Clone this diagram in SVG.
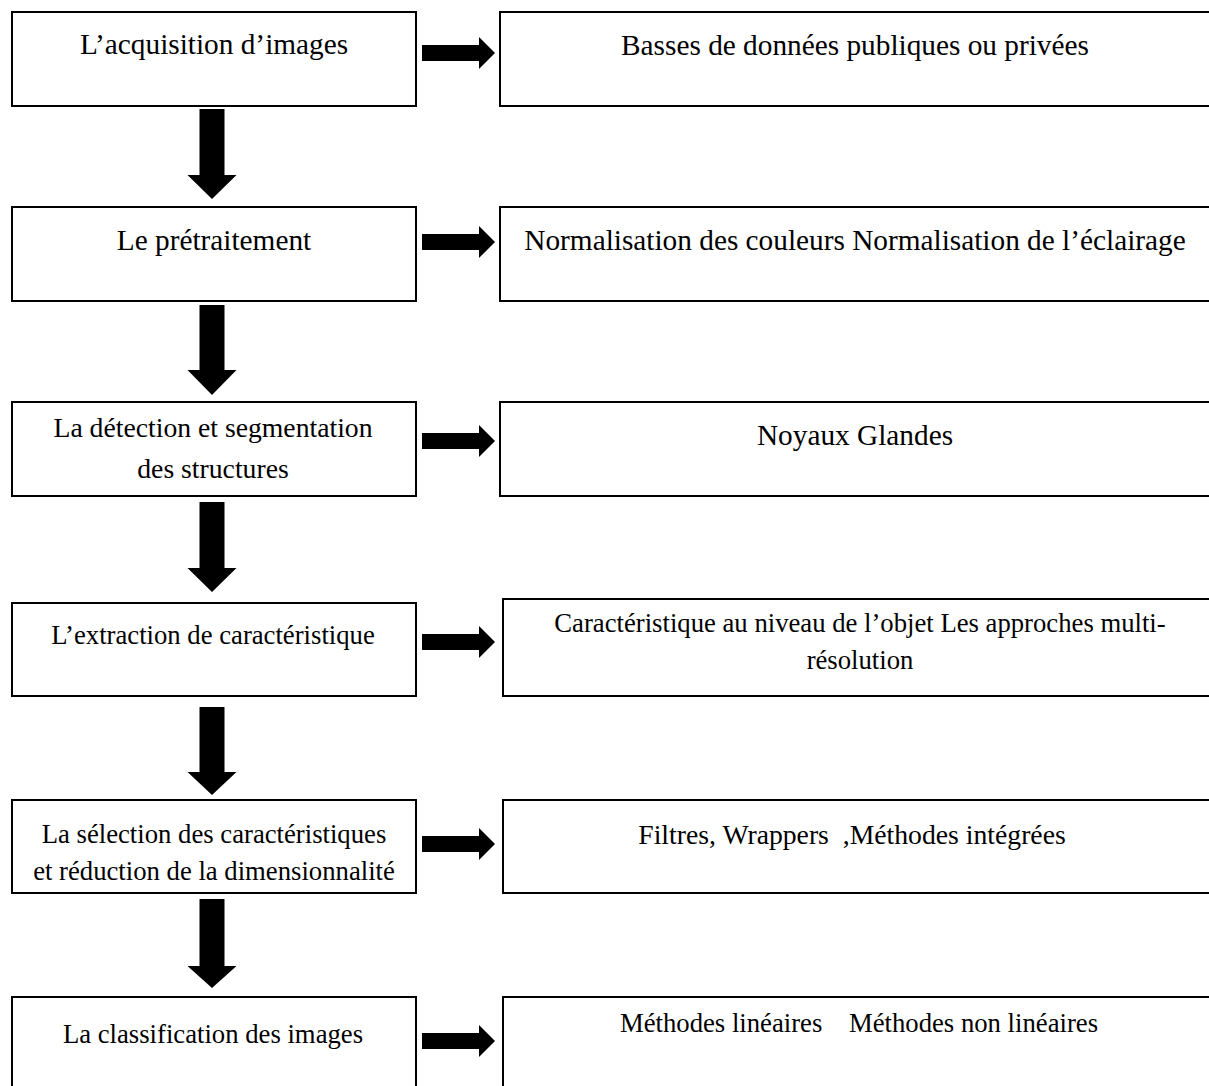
<svg xmlns="http://www.w3.org/2000/svg" width="1209" height="1086" viewBox="0 0 1209 1086">
<style>
.box{fill:#fff;stroke:#000;stroke-width:2}
.arr{fill:#000}
text{font-family:"Liberation Serif","Times New Roman",serif;fill:#000;text-anchor:middle;white-space:pre}
.a{font-size:29.3px}
.b{font-size:27.7px}
.c{font-size:26.7px}
</style>
<rect width="1209" height="1086" fill="#fff"/>
<g id="n1"><rect class="box" x="12" y="12" width="404" height="94"/><text class="a" x="214" y="54">L’acquisition d’images</text></g>
<g id="r1"><rect class="box" x="500" y="12" width="712" height="94"/><text class="a" x="855" y="55">Basses de données publiques ou privées</text></g>
<g id="n2"><rect class="box" x="12" y="207" width="404" height="94"/><text class="a" x="214" y="250">Le prétraitement</text></g>
<g id="r2"><rect class="box" x="500" y="207" width="712" height="94"/><text class="a" x="855" y="250">Normalisation des couleurs Normalisation de l’éclairage</text></g>
<g id="n3"><rect class="box" x="12" y="402" width="404" height="94"/><text class="b" x="213" y="437">La détection et segmentation</text><text class="b" x="213" y="478">des structures</text></g>
<g id="r3"><rect class="box" x="500" y="402" width="712" height="94"/><text class="a" x="855" y="445">Noyaux Glandes</text></g>
<g id="n4"><rect class="box" x="12" y="603" width="404" height="93"/><text class="c" x="213" y="644">L’extraction de caractéristique</text></g>
<g id="r4"><rect class="box" x="503" y="599" width="709" height="97"/><text class="c" x="860" y="632">Caractéristique au niveau de l’objet Les approches multi-</text><text class="c" x="860" y="669">résolution</text></g>
<g id="n5"><rect class="box" x="12" y="800" width="404" height="93"/><text class="c" x="214" y="843">La sélection des caractéristiques</text><text class="c" x="214" y="880">et réduction de la dimensionnalité</text></g>
<g id="r5"><rect class="box" x="503" y="800" width="709" height="93"/><text class="b" x="852" y="844">Filtres, Wrappers  ,Méthodes intégrées</text></g>
<g id="n6"><rect class="box" x="12" y="997" width="404" height="100"/><text class="c" x="213" y="1043">La classification des images</text></g>
<g id="r6"><rect class="box" x="503" y="997" width="709" height="100"/><text class="c" x="859" y="1032">Méthodes linéaires    Méthodes non linéaires</text></g>
<g id="connectors">
<polygon class="arr" points="199.5,109 224.5,109 224.5,175 236.5,175 212,199 187.5,175 199.5,175"/>
<polygon class="arr" points="199.5,305 224.5,305 224.5,370 236.5,370 212,395 187.5,370 199.5,370"/>
<polygon class="arr" points="199.5,502 224.5,502 224.5,568 236.5,568 212,592 187.5,568 199.5,568"/>
<polygon class="arr" points="199.5,707 224.5,707 224.5,772 236.5,772 212,795 187.5,772 199.5,772"/>
<polygon class="arr" points="199.5,899 224.5,899 224.5,966 236.5,966 212,988 187.5,966 199.5,966"/>
<polygon class="arr" points="422,45 479,45 479,37 495,53 479,69 479,61 422,61"/>
<polygon class="arr" points="422,234 479,234 479,226 495,242 479,258 479,250 422,250"/>
<polygon class="arr" points="422,433 479,433 479,425 495,441 479,457 479,449 422,449"/>
<polygon class="arr" points="422,634 479,634 479,626 495,642 479,658 479,650 422,650"/>
<polygon class="arr" points="422,836 479,836 479,828 495,844 479,860 479,852 422,852"/>
<polygon class="arr" points="422,1033 479,1033 479,1025 495,1041 479,1057 479,1049 422,1049"/>
</g>
</svg>
